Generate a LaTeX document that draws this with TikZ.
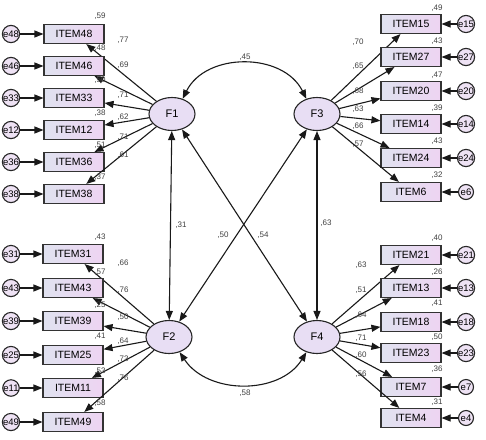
\documentclass[tikz,border=0pt]{standalone}
\usepackage{fontspec}
\setmainfont{Liberation Sans}
\usetikzlibrary{arrows.meta,shapes.geometric}
\definecolor{boxL}{RGB}{224,226,240}
\definecolor{boxR}{RGB}{238,212,242}
\definecolor{latfill}{RGB}{232,222,244}
\definecolor{errfill}{RGB}{238,226,244}
\begin{document}
\begin{tikzpicture}[x=1pt,y=-1pt,
  item/.style={draw=black!80, line width=1.1pt, minimum width=60pt, minimum height=19pt, inner sep=0pt, left color=boxL, right color=boxR, font=\fontsize{10.5}{10.5}\selectfont},
  lat/.style={ellipse, draw=black!85, line width=1.1pt, fill=latfill, minimum width=46pt, minimum height=33pt, inner sep=0pt, font=\fontsize{11}{11}\selectfont},
  err/.style={circle, draw=black!85, line width=1.1pt, fill=errfill, minimum size=15pt, inner sep=0pt, font=\fontsize{9.5}{9.5}\selectfont},
  arr/.style={-{Triangle[length=9pt,width=7pt]}, line width=1.1pt, draw=black!90},
  dbl/.style={{Triangle[length=9pt,width=7pt]}-{Triangle[length=9pt,width=7pt]}, line width=1.1pt, draw=black!90},
  val/.style={font=\fontsize{8}{8}\selectfont, text=black!75, inner sep=0pt}
]
\useasboundingbox (0,0) rectangle (486,439);
% latent factors
\node[lat] (F1) at (172,114) {F1};
\node[lat] (F3) at (317,114) {F3};
\node[lat] (F2) at (169,337) {F2};
\node[lat] (F4) at (317,337) {F4};
% left top (F1)
\foreach \n/\y/\l/\ly/\r/\ry in {48/34/77/40/59/16, 46/66/69/65/48/48, 33/98/71/95/50/80, 12/130/62/117/38/113, 36/162/71/137/51/145, 38/194/61/155/37/177}{
  \node[item] (i\n) at (74,\y) {ITEM\n};
  \node[err] (e\n) at (11,\y) {e\n};
  \draw[arr] (e\n) -- (i\n);
  \draw[arr] (F1) -- (i\n);
  \node[val] (l\n) at (123,\ly) {,\l};
  \node[val] (r\n) at (100,\ry) {,\r};
}
% left bottom (F2)
\foreach \n/\y/\l/\ly/\r/\ry in {31/254/66/263/43/237, 43/288/76/290/57/272, 39/321/50/317/25/305, 25/355/64/341/41/336, 11/388/73/359/53/371, 49/422/76/378/58/403}{
  \node[item] (i\n) at (73,\y) {ITEM\n};
  \node[err] (e\n) at (11,\y) {e\n};
  \draw[arr] (e\n) -- (i\n);
  \draw[arr] (F2) -- (i\n);
  \node[val] (l\n) at (123,\ly) {,\l};
  \node[val] (r\n) at (100,\ry) {,\r};
}
% right top (F3)
\foreach \n/\y/\l/\ly/\r/\ry in {15/24/70/42/49/8, 27/57/65/66/43/41, 20/91/68/91/47/75, 14/124/63/109/39/108, 24/158/66/126/43/141, 6/192/57/144/32/175}{
  \node[item] (i\n) at (411,\y) {ITEM\n};
  \node[err] (e\n) at (466,\y) {e\n};
  \draw[arr] (e\n) -- (i\n);
  \draw[arr] (F3) -- (i\n);
  \node[val] (l\n) at (358,\ly) {,\l};
  \node[val] (r\n) at (437,\ry) {,\r};
}
% right bottom (F4)
\foreach \n/\y/\l/\ly/\r/\ry in {21/255/63/265/40/238, 13/288/51/290/26/272, 18/322/64/315/41/303, 23/353/71/338/50/337, 7/387/60/355/36/369, 4/418/56/374/31/402}{
  \node[item] (i\n) at (411,\y) {ITEM\n};
  \node[err] (e\n) at (466,\y) {e\n};
  \draw[arr] (e\n) -- (i\n);
  \draw[arr] (F4) -- (i\n);
  \node[val] (l\n) at (361,\ly) {,\l};
  \node[val] (r\n) at (437,\ry) {,\r};
}
% correlations
\draw[dbl] (F1.55) .. controls (206,52) and (283,52) .. (F3.125);
\draw[dbl] (F2.-55) .. controls (208,395) and (280,395) .. (F4.-125);
\draw[dbl] (F1) -- (F2);
\draw[dbl] (F3) -- (F4);
\draw[dbl] (F1) -- (F4);
\draw[dbl] (F3) -- (F2);
\node[val] (c13) at (245,57) {,45};
\node[val] (c24) at (245,393) {,58};
\node[val] (c12) at (181,225) {,31};
\node[val] (c32) at (223,235) {,50};
\node[val] (c14) at (263,235) {,54};
\node[val] (c34) at (326,223) {,63};
\end{tikzpicture}
\end{document}
